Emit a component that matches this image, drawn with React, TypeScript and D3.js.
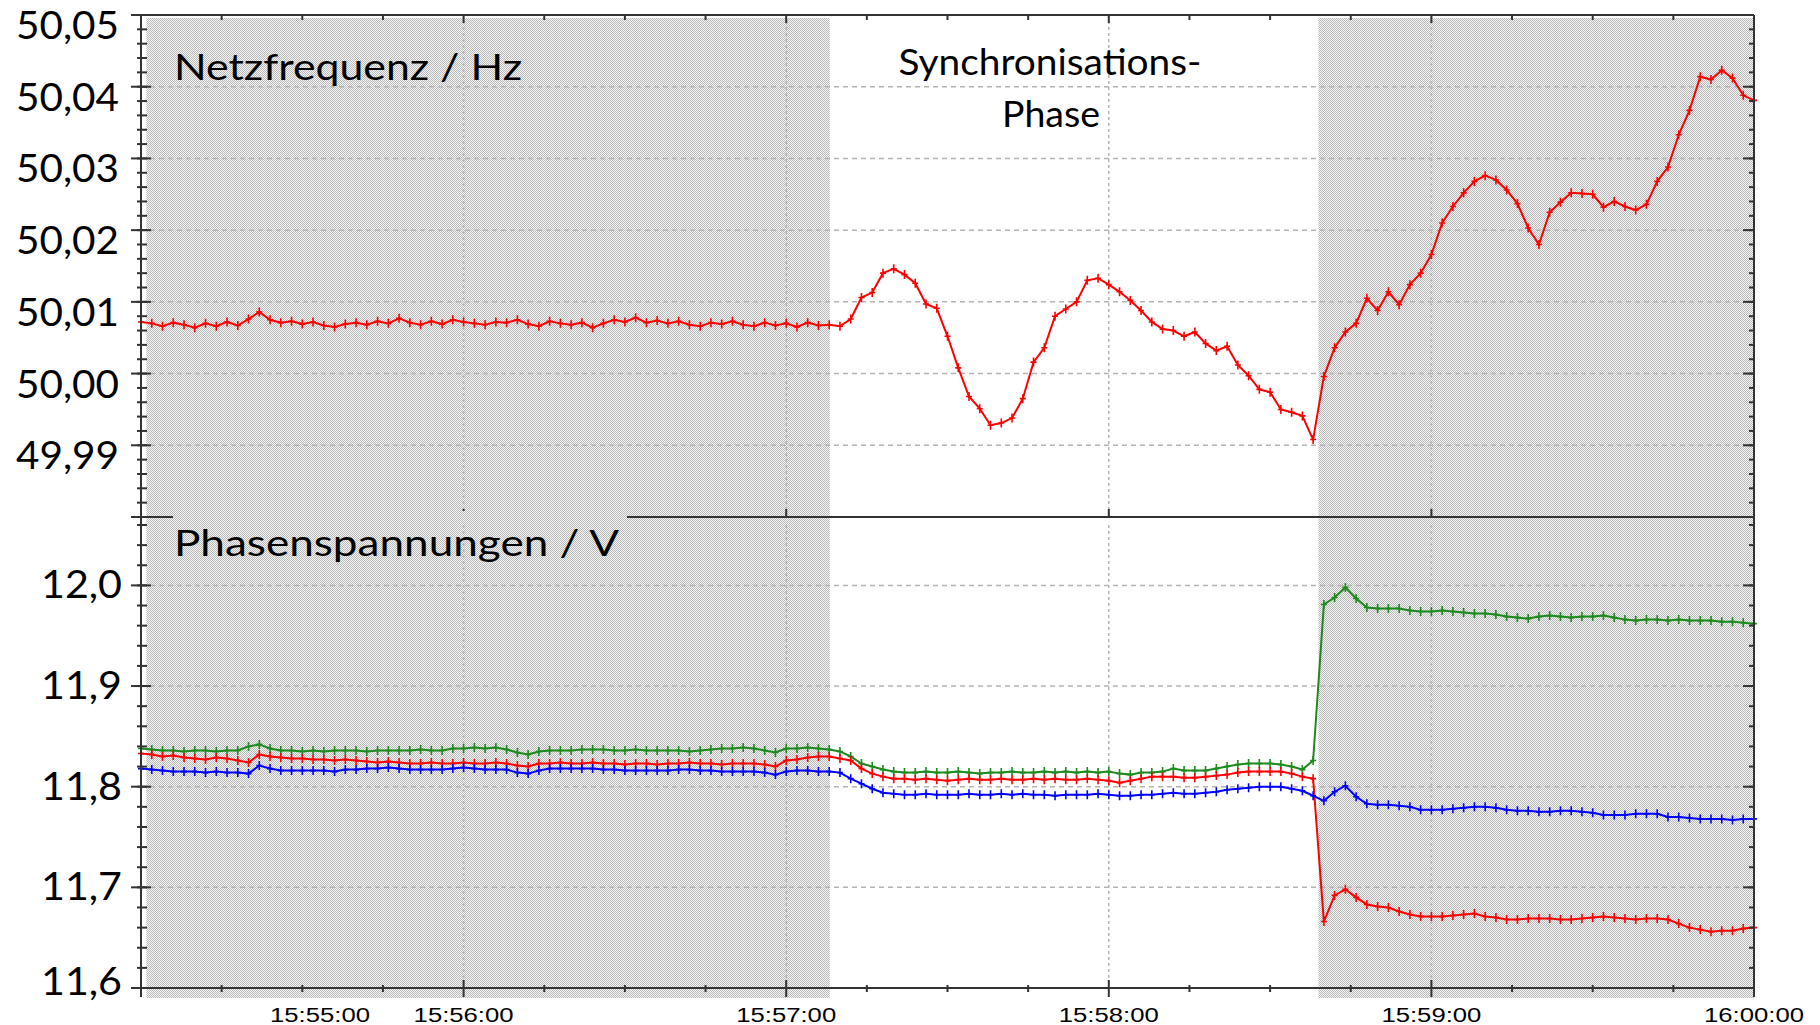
import React from 'react';
import * as d3 from 'd3';

// time in seconds after 15:55:00, one sample every 2 s
const SAMPLE_STEP = 2;

const netzfrequenz = [
  50.0072, 50.0070, 50.0066, 50.0071, 50.0068, 50.0064, 50.0070, 50.0066, 50.0072, 50.0067,
  50.0076, 50.0086, 50.0075, 50.0071, 50.0073, 50.0069, 50.0072, 50.0067, 50.0065, 50.0069,
  50.0071, 50.0068, 50.0073, 50.0070, 50.0077, 50.0071, 50.0068, 50.0073, 50.0069, 50.0075,
  50.0072, 50.0070, 50.0068, 50.0072, 50.0071, 50.0075, 50.0069, 50.0066, 50.0073, 50.0070,
  50.0068, 50.0071, 50.0064, 50.0070, 50.0075, 50.0072, 50.0078, 50.0071, 50.0074, 50.0070,
  50.0073, 50.0068, 50.0066, 50.0071, 50.0069, 50.0073, 50.0068, 50.0066, 50.0071, 50.0067,
  50.0070, 50.0065, 50.0071, 50.0067, 50.0068, 50.0066, 50.0076, 50.0106, 50.0113, 50.0140,
  50.0146, 50.0138, 50.0126, 50.0097, 50.0091, 50.0052, 50.0008, 49.9968, 49.9951, 49.9928,
  49.9931, 49.9938, 49.9965, 50.0016, 50.0036, 50.0080, 50.0090, 50.0100, 50.0130, 50.0133,
  50.0124, 50.0114, 50.0102, 50.0088, 50.0072, 50.0062, 50.0060, 50.0052, 50.0058, 50.0042,
  50.0032, 50.0038, 50.0012, 49.9997, 49.9978, 49.9974, 49.9950, 49.9946, 49.9941, 49.9908,
  49.9996, 50.0036, 50.0058, 50.0070, 50.0105, 50.0088, 50.0114, 50.0096, 50.0124, 50.0140,
  50.0166, 50.0210, 50.0233, 50.0252, 50.0268, 50.0276, 50.0270, 50.0256, 50.0237, 50.0203,
  50.0180, 50.0225, 50.0239, 50.0252, 50.0251, 50.0250, 50.0232, 50.0240, 50.0233, 50.0228,
  50.0236, 50.0268, 50.0288, 50.0333, 50.0367, 50.0414, 50.0410, 50.0423, 50.0412, 50.0388,
  50.0381,
];

const spannungGruen = [
  11.838, 11.837, 11.836, 11.836, 11.835, 11.836, 11.836, 11.835, 11.836, 11.836,
  11.840, 11.842, 11.838, 11.836, 11.836, 11.835, 11.836, 11.835, 11.836, 11.836,
  11.836, 11.835, 11.836, 11.836, 11.836, 11.836, 11.837, 11.836, 11.836, 11.838,
  11.838, 11.839, 11.838, 11.839, 11.837, 11.834, 11.832, 11.835, 11.836, 11.836,
  11.836, 11.837, 11.837, 11.837, 11.836, 11.836, 11.837, 11.836, 11.836, 11.836,
  11.836, 11.835, 11.836, 11.837, 11.838, 11.838, 11.839, 11.838, 11.836, 11.834,
  11.838, 11.838, 11.839, 11.838, 11.837, 11.835, 11.830, 11.823, 11.820, 11.817,
  11.815, 11.814, 11.814, 11.815, 11.814, 11.814, 11.815, 11.814, 11.813, 11.814,
  11.814, 11.815, 11.814, 11.814, 11.815, 11.814, 11.815, 11.814, 11.815, 11.814,
  11.815, 11.813, 11.812, 11.814, 11.814, 11.815, 11.818, 11.816, 11.816, 11.816,
  11.818, 11.820, 11.822, 11.823, 11.823, 11.823, 11.822, 11.820, 11.817, 11.826,
  11.981, 11.988, 11.998, 11.987, 11.978, 11.977, 11.977, 11.977, 11.975, 11.974,
  11.974, 11.975, 11.974, 11.973, 11.972, 11.972, 11.971, 11.969, 11.968, 11.967,
  11.969, 11.970, 11.969, 11.968, 11.969, 11.969, 11.970, 11.968, 11.966, 11.965,
  11.966, 11.966, 11.965, 11.966, 11.965, 11.965, 11.965, 11.964, 11.964, 11.963,
  11.962,
];

const spannungRot = [
  11.833, 11.832, 11.830, 11.831, 11.829, 11.828, 11.827, 11.829, 11.828, 11.826,
  11.824, 11.832, 11.830, 11.829, 11.828, 11.828, 11.827, 11.827, 11.826, 11.827,
  11.826, 11.825, 11.824, 11.825, 11.824, 11.823, 11.823, 11.824, 11.823, 11.823,
  11.824, 11.823, 11.823, 11.824, 11.823, 11.821, 11.820, 11.823, 11.823, 11.824,
  11.823, 11.823, 11.824, 11.823, 11.823, 11.822, 11.823, 11.823, 11.822, 11.823,
  11.823, 11.824, 11.823, 11.823, 11.822, 11.823, 11.823, 11.823, 11.822, 11.820,
  11.826, 11.827, 11.829, 11.830, 11.830, 11.828, 11.826, 11.818, 11.813, 11.810,
  11.808, 11.808, 11.807, 11.808, 11.807, 11.806, 11.807, 11.808, 11.807, 11.807,
  11.808, 11.807, 11.807, 11.808, 11.807, 11.808, 11.807, 11.807, 11.808, 11.807,
  11.806, 11.804, 11.806, 11.808, 11.810, 11.810, 11.810, 11.809, 11.809, 11.810,
  11.811, 11.812, 11.814, 11.815, 11.815, 11.815, 11.815, 11.813, 11.810, 11.808,
  11.666, 11.692, 11.698, 11.690, 11.683, 11.681, 11.680, 11.676, 11.673, 11.671,
  11.671, 11.671, 11.672, 11.673, 11.674, 11.671, 11.670, 11.668, 11.668, 11.669,
  11.669, 11.669, 11.668, 11.668, 11.669, 11.670, 11.671, 11.670, 11.669, 11.668,
  11.669, 11.669, 11.668, 11.664, 11.660, 11.658, 11.656, 11.657, 11.657, 11.659,
  11.660,
];

const spannungBlau = [
  11.818, 11.817, 11.816, 11.815, 11.815, 11.815, 11.814, 11.815, 11.814, 11.814,
  11.813, 11.821, 11.818, 11.816, 11.816, 11.816, 11.816, 11.816, 11.815, 11.817,
  11.817, 11.818, 11.818, 11.819, 11.818, 11.817, 11.817, 11.817, 11.817, 11.818,
  11.819, 11.818, 11.817, 11.817, 11.817, 11.814, 11.813, 11.816, 11.818, 11.818,
  11.818, 11.818, 11.818, 11.817, 11.817, 11.816, 11.816, 11.816, 11.816, 11.816,
  11.817, 11.817, 11.816, 11.816, 11.815, 11.815, 11.815, 11.815, 11.814, 11.812,
  11.815, 11.816, 11.816, 11.815, 11.815, 11.814, 11.808, 11.803, 11.798, 11.794,
  11.793, 11.792, 11.792, 11.793, 11.792, 11.792, 11.792, 11.793, 11.792, 11.792,
  11.793, 11.792, 11.793, 11.792, 11.792, 11.791, 11.792, 11.792, 11.792, 11.793,
  11.792, 11.791, 11.791, 11.792, 11.792, 11.793, 11.794, 11.793, 11.793, 11.794,
  11.795, 11.797, 11.798, 11.799, 11.800, 11.800, 11.800, 11.798, 11.796, 11.791,
  11.786, 11.795, 11.801, 11.790, 11.783, 11.782, 11.782, 11.781, 11.780, 11.777,
  11.777, 11.777, 11.778, 11.779, 11.780, 11.780, 11.779, 11.777, 11.776, 11.776,
  11.775, 11.775, 11.776, 11.776, 11.775, 11.774, 11.772, 11.772, 11.772, 11.773,
  11.773, 11.773, 11.770, 11.770, 11.769, 11.768, 11.768, 11.768, 11.767, 11.768,
  11.768,
];

const freqTicks = [50.05, 50.04, 50.03, 50.02, 50.01, 50.0, 49.99];
const freqTickLabels = ['50,05', '50,04', '50,03', '50,02', '50,01', '50,00', '49,99'];
const voltTicks = [12.0, 11.9, 11.8, 11.7, 11.6];
const voltTickLabels = ['12,0', '11,9', '11,8', '11,7', '11,6'];
const timeTicks = [0, 60, 120, 180, 240, 300];
const timeTickLabels = ['15:55:00', '15:56:00', '15:57:00', '15:58:00', '15:59:00', '16:00:00'];
const shadedSpans = [
  [1, 128.1],
  [219.0, 300],
];

const W = 1820;
const H = 1025;
const L = 141;
const R = 1754;
const TOP = 15;
const SEP = 517;
const BTOP = 525;
const BOT = 988;

export default function App() {
  const x = d3.scaleLinear().domain([0, 300]).range([L, R]);
  const yF = d3.scaleLinear().domain([49.98, 50.05]).range([SEP, TOP]);
  const yV = d3.scaleLinear().domain([11.6, 12.06]).range([BOT, BTOP]);

  const tOf = (i: number) => i * SAMPLE_STEP;

  const lineF = d3
    .line<number>()
    .x((_, i) => x(tOf(i)))
    .y((d) => yF(d));
  const lineV = d3
    .line<number>()
    .x((_, i) => x(tOf(i)))
    .y((d) => yV(d));

  const markers = (vals: number[], y: (v: number) => number) =>
    vals
      .map((v, i) => {
        const px = x(tOf(i));
        const py = y(v);
        return `M${px - 3},${py}h6M${px},${py - 4.5}v9`;
      })
      .join('');

  const minorT = d3.range(0, 301, 15);
  const majorT = d3.range(0, 301, 60);
  const minorF = d3.range(0, 36).map((k) => 49.98 + k * 0.002);
  const majorF = d3.range(0, 8).map((k) => 49.98 + k * 0.01);
  const minorV = d3.range(0, 24).map((k) => 11.6 + k * 0.02);
  const majorV = d3.range(0, 5).map((k) => 11.6 + k * 0.1);

  const axisColor = '#333333';
  const gridColor = '#b4b4b4';

  const series = [
    { vals: spannungGruen, color: '#1d8a1d' },
    { vals: spannungRot, color: '#ff0000' },
    { vals: spannungBlau, color: '#0000ff' },
  ];

  return (
    <svg
      width={W}
      height={H}
      viewBox={`0 0 ${W} ${H}`}
      style={{ position: 'absolute', left: 0, top: 0, display: 'block', background: '#ffffff' }}
    >
      <defs>
        <pattern id="dots" width={2} height={2} patternUnits="userSpaceOnUse">
          <rect width={2} height={2} fill="#f6f6f6" />
          <rect x={0} y={0} width={1} height={1} fill="#b8b8b8" />
          <rect x={1} y={1} width={1} height={1} fill="#b8b8b8" />
        </pattern>
      </defs>
      <rect width={W} height={H} fill="#ffffff" />

      {shadedSpans.map(([a, b], i) => (
        <rect key={i} x={x(a)} y={TOP + 3} width={x(b) - x(a)} height={BOT + 10 - TOP - 3} fill="url(#dots)" />
      ))}

      <g stroke={gridColor} strokeWidth={1.5} fill="none">
        {freqTicks.slice(1).map((v) => (
          <line key={'gf' + v} x1={L} x2={R} y1={yF(v)} y2={yF(v)} strokeDasharray="5,4" />
        ))}
        {voltTicks.slice(0, 4).map((v) => (
          <line key={'gv' + v} x1={L} x2={R} y1={yV(v)} y2={yV(v)} strokeDasharray="5,4" />
        ))}
        {timeTicks.slice(1, 5).map((t) => (
          <g key={'gt' + t}>
            <line x1={x(t)} x2={x(t)} y1={TOP} y2={SEP} strokeDasharray="3,3" />
            <line x1={x(t)} x2={x(t)} y1={BTOP} y2={BOT} strokeDasharray="3,3" />
          </g>
        ))}
      </g>

      <g fill="none" strokeLinejoin="miter">
        <path d={lineF(netzfrequenz) || ''} stroke="#ff0000" strokeWidth={2} />
        <path d={markers(netzfrequenz, yF)} stroke="#ff0000" strokeWidth={1.6} />
        {series.map((s, i) => (
          <g key={i}>
            <path d={lineV(s.vals) || ''} stroke={s.color} strokeWidth={2} />
            <path d={markers(s.vals, yV)} stroke={s.color} strokeWidth={1.6} />
          </g>
        ))}
      </g>

      <g stroke={axisColor} strokeWidth={2} fill="none">
        <line x1={L} x2={R} y1={TOP} y2={TOP} />
        <line x1={L} x2={L} y1={TOP} y2={BOT} />
        <line x1={R} x2={R} y1={TOP} y2={BOT} />
        <line x1={L} x2={R} y1={SEP} y2={SEP} />
        <line x1={L - 2} x2={R} y1={BOT} y2={BOT} />
        {minorT.map((t) => (
          <line key={'tt' + t} x1={x(t)} x2={x(t)} y1={TOP} y2={TOP + (t % 60 === 0 ? 8 : 5)} />
        ))}
        {majorT.slice(1, 5).map((t) => (
          <line key={'st' + t} x1={x(t)} x2={x(t)} y1={SEP - 8} y2={SEP} />
        ))}
        {minorT.map((t) => (
          <line
            key={'bt' + t}
            x1={x(t)}
            x2={x(t)}
            y1={t % 60 === 0 ? BOT - 8 : BOT - 3}
            y2={t % 60 === 0 ? BOT + 9 : BOT + 4}
          />
        ))}
        {minorF.map((v, i) => (
          <line key={'lf' + i} x1={L - 4} x2={L + 6} y1={yF(v)} y2={yF(v)} />
        ))}
        {majorF.map((v, i) => (
          <line key={'lF' + i} x1={L - 10} x2={L + 10} y1={yF(v)} y2={yF(v)} />
        ))}
        {minorV.map((v, i) => (
          <line key={'lv' + i} x1={L - 4} x2={L + 6} y1={yV(v)} y2={yV(v)} />
        ))}
        {majorV.map((v, i) => (
          <line key={'lV' + i} x1={L - 10} x2={L + 10} y1={yV(v)} y2={yV(v)} />
        ))}
        {minorF.map((v, i) => (
          <line key={'rf' + i} x1={R - 5} x2={R} y1={yF(v)} y2={yF(v)} />
        ))}
        {majorF.map((v, i) => (
          <line key={'rF' + i} x1={R - 11} x2={R} y1={yF(v)} y2={yF(v)} />
        ))}
        {minorV.map((v, i) => (
          <line key={'rv' + i} x1={R - 5} x2={R} y1={yV(v)} y2={yV(v)} />
        ))}
        {majorV.map((v, i) => (
          <line key={'rV' + i} x1={R - 11} x2={R} y1={yV(v)} y2={yV(v)} />
        ))}
      </g>

      <rect x={173} y={511} width={454} height={12} fill="url(#dots)" />

      <g fontFamily="Lato, 'Noto Sans', sans-serif" fontSize={38} fill="#000">
        {freqTicks.map((v, i) => (
          <text key={'f' + v} x={119} y={yF(v) + 24} textAnchor="end" textLength={103} lengthAdjust="spacingAndGlyphs">
            {freqTickLabels[i]}
          </text>
        ))}
        {voltTicks.map((v, i) => (
          <text
            key={'v' + v}
            x={122}
            y={yV(v) + 13 - (i === voltTicks.length - 1 ? 6 : 0)}
            textAnchor="end"
            textLength={81}
            lengthAdjust="spacingAndGlyphs"
          >
            {voltTickLabels[i]}
          </text>
        ))}
      </g>

      <g fontFamily="'Liberation Sans', Arial, sans-serif" fontSize={20} fill="#000">
        {timeTicks.map((t, i) => (
          <text
            key={'t' + t}
            x={x(t) + (i === 0 ? 179 : 0)}
            y={1022}
            textAnchor="middle"
            textLength={100}
            lengthAdjust="spacingAndGlyphs"
          >
            {timeTickLabels[i]}
          </text>
        ))}
      </g>

      <g fontFamily="Lato, 'Noto Sans', sans-serif" fontSize={37} fill="#000">
        <text x={174} y={80} textLength={348} lengthAdjust="spacingAndGlyphs">
          Netzfrequenz / Hz
        </text>
        <text x={174} y={556} textLength={445} lengthAdjust="spacingAndGlyphs">
          Phasenspannungen / V
        </text>
        <text x={1050} y={75} textAnchor="middle" textLength={303} lengthAdjust="spacingAndGlyphs">
          Synchronisations-
        </text>
        <text x={1051} y={127} textAnchor="middle" textLength={98} lengthAdjust="spacingAndGlyphs">
          Phase
        </text>
      </g>
    </svg>
  );
}
